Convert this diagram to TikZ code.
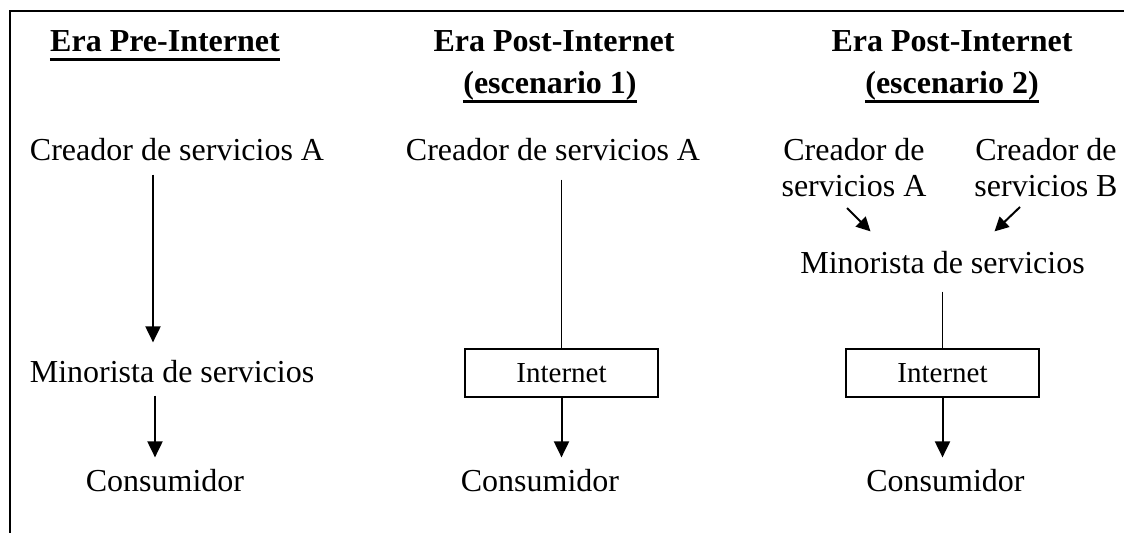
\documentclass[tikz,border=0pt]{standalone}
\usepackage{fontspec}
\setmainfont{Liberation Serif}
\usetikzlibrary{arrows.meta}

\tikzset{
  texto/.style={inner sep=0pt, anchor=base, font=\fontsize{16}{18}\selectfont},
  titulo/.style={texto, font=\fontsize{16}{18}\selectfont\bfseries},
  caja/.style={draw, line width=0.65pt, minimum width=96.5pt, minimum height=24pt, inner sep=0pt, font=\fontsize{14.5}{17}\selectfont},
  flecha/.style={line width=1pt, -{Triangle[length=8pt,width=7.5pt]}},
  flechita/.style={line width=1pt, -{Triangle[length=7pt,width=7pt]}},
  linea/.style={line width=0.65pt},
  subrayado/.style={line width=1.5pt}
}

\begin{document}
\begin{tikzpicture}[x=0.5pt, y=-0.5pt]
\useasboundingbox (0,0) rectangle (1124,533);
\draw[linea] (10,533) -- (10,11) -- (1124,11);

\node[titulo] (t1) at (165,52) {Era Pre-Internet};
\node[titulo] (t2) at (554,52) {Era Post-Internet};
\node[titulo] (e2) at (550,94) {(escenario 1)};
\node[titulo] (t3) at (952,52) {Era Post-Internet};
\node[titulo] (e3) at (952,94) {(escenario 2)};
\draw[subrayado] ([yshift=-4pt]t1.base west) -- ([yshift=-4pt]t1.base east);
\draw[subrayado] ([yshift=-4pt]e2.base west) -- ([yshift=-4pt]e2.base east);
\draw[subrayado] ([yshift=-4pt]e3.base west) -- ([yshift=-4pt]e3.base east);

\node[texto] (c1) at (177,161) {Creador de servicios A};
\node[texto] (m1) at (172,383) {Minorista de servicios};
\node[texto] (k1) at (165,492) {Consumidor};
\draw[flecha] ([xshift=-12pt,yshift=-6.5pt]c1.south) -- ([xshift=-9.5pt,yshift=9pt]m1.north);
\draw[flecha] ([xshift=-8.5pt,yshift=-6pt]m1.south) -- ([xshift=-5pt,yshift=6pt]k1.north);

\node[texto] (c2) at (553,161) {Creador de servicios A};
\node[caja] (b2) at (561.5,373) {Internet};
\node[texto] (k2) at (540,492) {Consumidor};
\draw[linea] ([xshift=4.25pt,yshift=-9pt]c2.south) -- (b2.north);
\draw[flecha] (b2.south) -- ([xshift=10.75pt,yshift=6pt]k2.north);

\node[texto, anchor=south, align=center] (c3a) at (854,197) {Creador de\\servicios A};
\node[texto, anchor=south, align=center] (c3b) at (1046,197) {Creador de\\servicios B};
\node[texto] (m3) at (942.5,274) {Minorista de servicios};
\node[caja] (b3) at (942.5,373) {Internet};
\node[texto] (k3) at (945.5,492) {Consumidor};
\draw[flechita] ([xshift=-3.5pt,yshift=-5.5pt]c3a.south) -- ([xshift=-36pt,yshift=10pt]m3.north);
\draw[flechita] ([xshift=-13pt,yshift=-5pt]c3b.south) -- ([xshift=26pt,yshift=10pt]m3.north);
\draw[linea] ([yshift=-8.5pt]m3.south) -- (b3.north);
\draw[flecha] (b3.south) -- ([xshift=-1.5pt,yshift=6pt]k3.north);
\end{tikzpicture}
\end{document}
